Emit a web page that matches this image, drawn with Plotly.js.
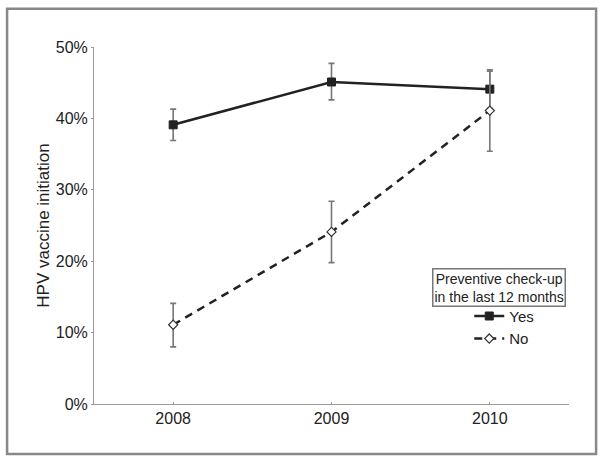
<!DOCTYPE html>
<html>
<head>
<meta charset="utf-8">
<script src="https://cdn.plot.ly/plotly-3.0.1.min.js"></script>
<style>html,body{margin:0;padding:0;background:#fff;}#chart{width:600px;height:460px;}</style>
</head>
<body>
<div id="chart"></div>
<script>
var years = [2008, 2009, 2010];
var yesValues = [39.1, 45.1, 44.1];
var yesUpper = [41.3, 47.7, 46.8];
var yesLower = [36.9, 42.6, 41.4];
var noValues = [11.1, 24.1, 41.1];
var noUpper = [14.1, 28.4, 46.6];
var noLower = [8.0, 19.8, 35.4];
var yTicks = [0, 10, 20, 30, 40, 50];
var yTickLabels = ['0%', '10%', '20%', '30%', '40%', '50%'];

function diff(a, b) { return a.map(function (v, i) { return +(v - b[i]).toFixed(2); }); }

var errStyle = {type: 'data', symmetric: false, color: '#777', thickness: 1.6, width: 3};

var traces = [
  {
    x: years, y: yesValues, name: 'Yes', type: 'scatter', mode: 'lines+markers',
    line: {color: '#222', width: 2.5},
    marker: {symbol: 'square', size: 8, color: '#222', line: {color: '#222', width: 1}},
    error_y: Object.assign({array: diff(yesUpper, yesValues), arrayminus: diff(yesValues, yesLower)}, errStyle)
  },
  {
    x: years, y: noValues, name: 'No', type: 'scatter', mode: 'lines+markers',
    line: {color: '#222', width: 2.5, dash: '8px,6px'},
    marker: {symbol: 'diamond', size: 7, color: '#fff', line: {color: '#333', width: 1.2}},
    error_y: Object.assign({array: diff(noUpper, noValues), arrayminus: diff(noValues, noLower)}, errStyle)
  }
];

var layout = {
  width: 600, height: 460,
  margin: {l: 94, r: 31, t: 47, b: 56},
  paper_bgcolor: '#fff', plot_bgcolor: '#fff',
  font: {family: 'Liberation Sans, Arial, sans-serif', color: '#222'},
  showlegend: true,
  legend: {
    x: 0.79, y: 0.292, xanchor: 'left', yanchor: 'top',
    font: {size: 15, color: '#222'}, bgcolor: 'rgba(0,0,0,0)',
    itemwidth: 30, tracegroupgap: 0
  },
  xaxis: {
    range: [2007.5, 2010.5], tickvals: years, ticktext: years.map(String),
    showgrid: false, zeroline: false, showline: true, linecolor: '#999', linewidth: 1,
    ticks: 'inside', ticklen: 2, tickcolor: '#999',
    tickfont: {size: 16, color: '#222'}
  },
  yaxis: {
    range: [0, 50], tickvals: yTicks, ticktext: yTickLabels,
    showgrid: false, zeroline: false, showline: true, linecolor: '#999', linewidth: 1,
    ticks: 'outside', ticklen: 2, tickcolor: '#999',
    tickfont: {size: 16, color: '#222'},
    title: {text: 'HPV vaccine initiation', font: {size: 17, color: '#222'}, standoff: 1}
  },
  shapes: [
    {type: 'rect', xref: 'paper', yref: 'paper', x0: -0.183, x1: 1.057, y0: -0.14, y1: 1.107,
     line: {color: '#888', width: 2.5}, fillcolor: 'rgba(0,0,0,0)'}
  ],
  annotations: [
    {xref: 'paper', yref: 'paper', x: 0.853, y: 0.325, xanchor: 'center', yanchor: 'middle',
     text: 'Preventive check-up<br>in the last 12 months', showarrow: false,
     font: {size: 14, color: '#222'}, bordercolor: '#777', borderwidth: 1.5, borderpad: 1,
     bgcolor: '#fff'}
  ]
};

Plotly.newPlot('chart', traces, layout, {displayModeBar: false, staticPlot: true});
</script>
</body>
</html>
